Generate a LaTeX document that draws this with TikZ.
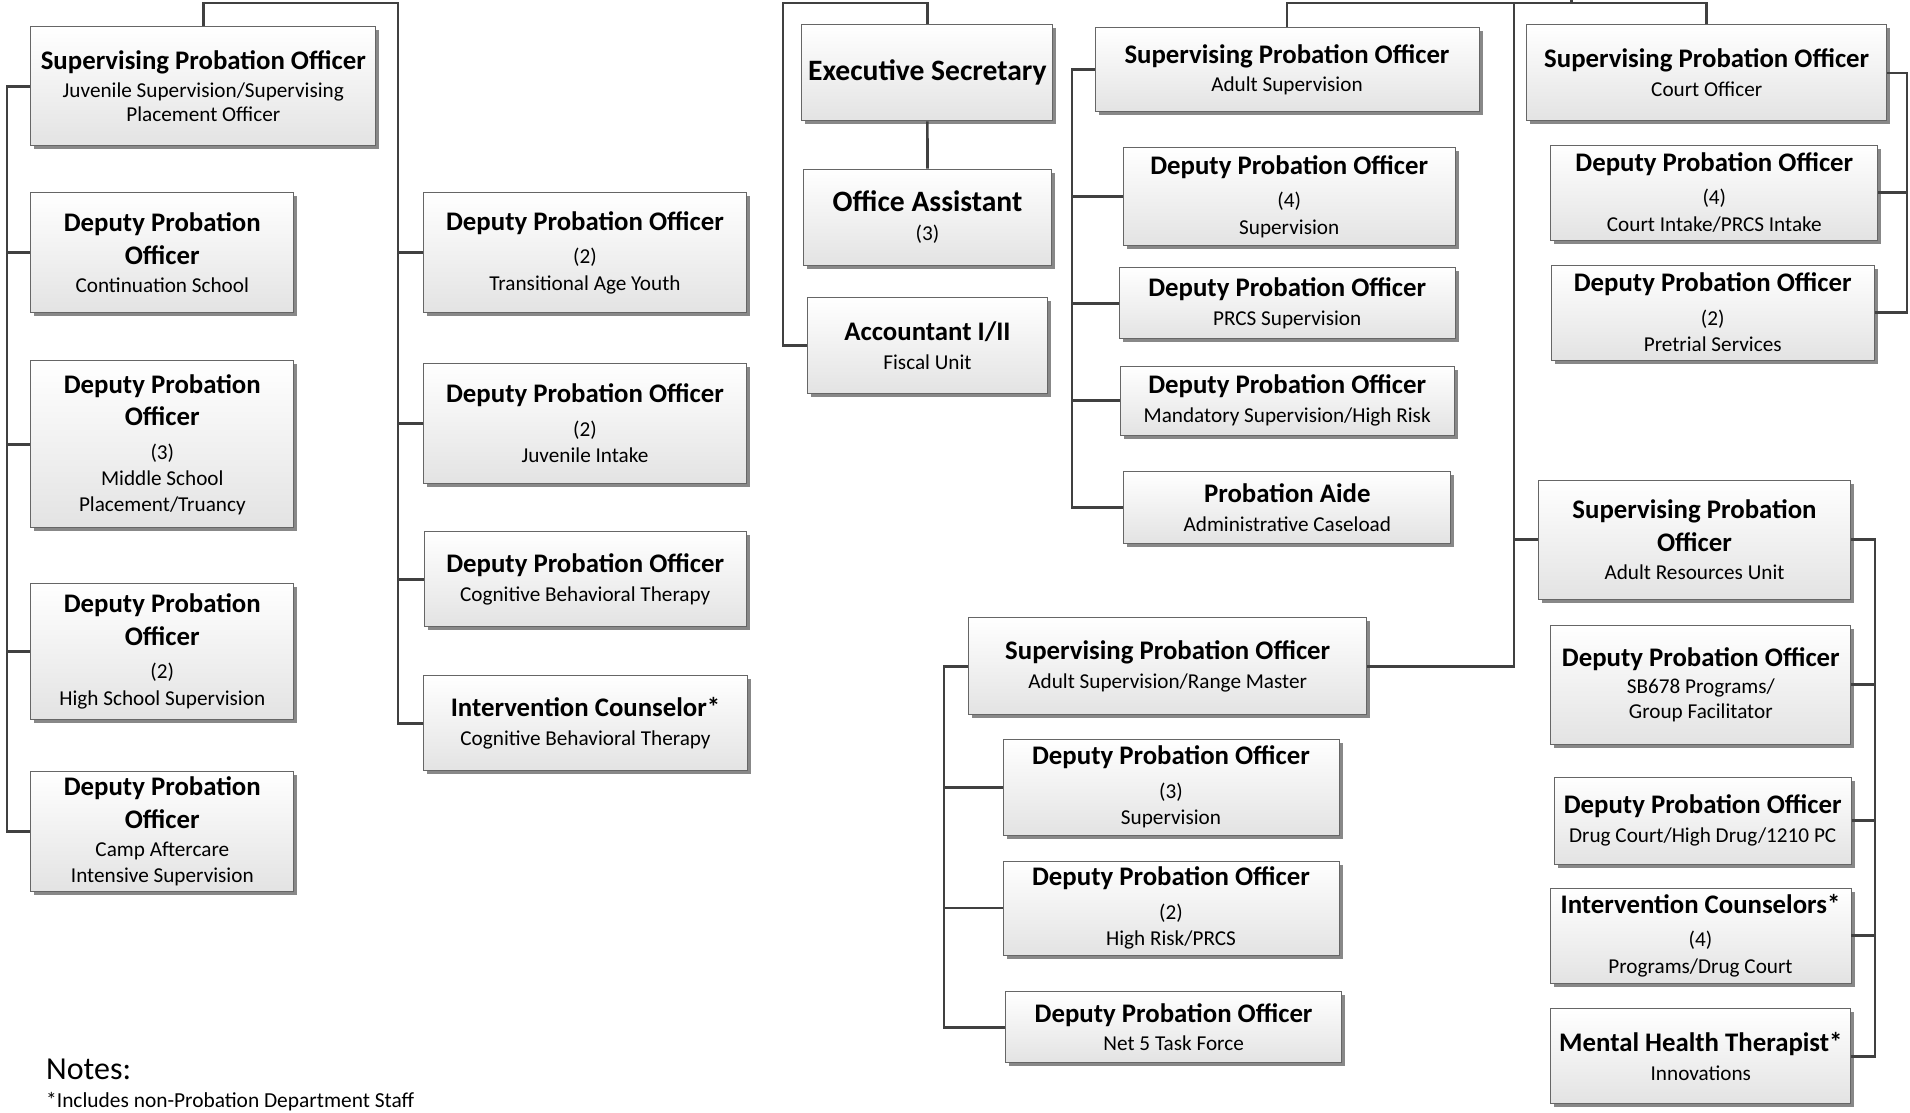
\documentclass[tikz,border=0pt]{standalone}
\usepackage{fontspec}
\setmainfont{Carlito}
\usetikzlibrary{shadows}
\newcommand\ttlfnt{\bfseries\fontsize{26.8}{31}\selectfont}
\newcommand\bigfnt{\bfseries\fontsize{29.6}{34}\selectfont}
\newcommand\subfnt{\fontsize{21.2}{25.5}\selectfont}
\begin{document}
\begin{tikzpicture}[x=1pt,y=-1pt,
    postbox/.style={draw=black!60, line width=0.9pt, top color=white, bottom color=black!11,
        drop shadow={shadow xshift=3.5pt, shadow yshift=-3.5pt, fill=black!55, opacity=0.85},
        inner sep=0pt, align=center, font=\subfnt},
    orgline/.style={draw=black!75, line width=2.6pt}]
                \useasboundingbox (0,0) rectangle (1910,1112) ;
                \draw (203.3,86.3) node[postbox, minimum width=345pt, minimum height=119pt] (spojuv) {\ttlfnt Supervising Probation Officer\\[2.5pt] Juvenile Supervision/Supervising\\[-1pt] Placement Officer} ;
                \draw (162.3,252.7) node[postbox, minimum width=263pt, minimum height=120pt] (dpocont) {\ttlfnt Deputy Probation\\[7pt] \ttlfnt Officer\\[3pt] Continuation School} ;
                \draw (162.3,444.4) node[postbox, minimum width=263pt, minimum height=167pt] (dpomid) {\ttlfnt Deputy Probation\\[7pt] \ttlfnt Officer\\[8pt] (3)\\[1pt] Middle School\\ Placement/Truancy} ;
                \draw (162.3,651.2) node[postbox, minimum width=263pt, minimum height=136pt] (dpohigh) {\ttlfnt Deputy Probation\\[7pt] \ttlfnt Officer\\[8pt] (2)\\[1pt] High School Supervision} ;
                \draw (162.3,831.5) node[postbox, minimum width=263pt, minimum height=120pt] (dpocamp) {\ttlfnt Deputy Probation\\[7pt] \ttlfnt Officer\\[3pt] Camp Aftercare\\ Intensive Supervision} ;
                \draw (585,252.7) node[postbox, minimum width=323pt, minimum height=120pt] (dpotay) {\ttlfnt Deputy Probation Officer\\[8pt] (2)\\[1pt] Transitional Age Youth} ;
                \draw (585,423.3) node[postbox, minimum width=323pt, minimum height=120pt] (dpojuvin) {\ttlfnt Deputy Probation Officer\\[8pt] (2)\\[1pt] Juvenile Intake} ;
                \draw (585.2,579.2) node[postbox, minimum width=322pt, minimum height=95pt] (dpocbt) {\ttlfnt Deputy Probation Officer\\[3pt] Cognitive Behavioral Therapy} ;
                \draw (585.5,723.4) node[postbox, minimum width=324pt, minimum height=95pt] (iccbt) {\ttlfnt Intervention Counselor*\\[3pt] Cognitive Behavioral Therapy} ;
                \draw (927.4,72.9) node[postbox, minimum width=251pt, minimum height=96pt] (execsec) {\bigfnt Executive Secretary} ;
                \draw (927.5,217) node[postbox, minimum width=248pt, minimum height=96pt] (offasst) {\bigfnt Office Assistant\\[3pt] (3)} ;
                \draw (927.5,345.5) node[postbox, minimum width=240pt, minimum height=96pt] (acct) {\ttlfnt Accountant I/II\\[3pt] Fiscal Unit} ;
                \draw (1287,69.7) node[postbox, minimum width=384pt, minimum height=84pt] (spoadult) {\ttlfnt Supervising Probation Officer\\[3pt] Adult Supervision} ;
                \draw (1289.2,196.7) node[postbox, minimum width=332pt, minimum height=98pt] (dpoadsup) {\ttlfnt Deputy Probation Officer\\[8pt] (4)\\[1pt] Supervision} ;
                \draw (1287.2,303.3) node[postbox, minimum width=336pt, minimum height=71pt] (dpoprcs) {\ttlfnt Deputy Probation Officer\\[3pt] PRCS Supervision} ;
                \draw (1287.2,400.5) node[postbox, minimum width=334pt, minimum height=69pt] (dpomand) {\ttlfnt Deputy Probation Officer\\[3pt] Mandatory Supervision/High Risk} ;
                \draw (1287.3,507.5) node[postbox, minimum width=327pt, minimum height=72pt] (aide) {\ttlfnt Probation Aide\\[3pt] Administrative Caseload} ;
                \draw (1706.7,72.9) node[postbox, minimum width=360pt, minimum height=96pt] (spocourt) {\ttlfnt Supervising Probation Officer\\[3pt] Court Officer} ;
                \draw (1714.3,192.5) node[postbox, minimum width=327pt, minimum height=95pt] (courtin) {\ttlfnt Deputy Probation Officer\\[8pt] (4)\\[1pt] Court Intake/PRCS Intake} ;
                \draw (1712.7,312.5) node[postbox, minimum width=323pt, minimum height=95pt] (pretrial) {\ttlfnt Deputy Probation Officer\\[8pt] (2)\\[1pt] Pretrial Services} ;
                \draw (1167.7,666.3) node[postbox, minimum width=398pt, minimum height=97pt] (sporange) {\ttlfnt Supervising Probation Officer\\[3pt] Adult Supervision/Range Master} ;
                \draw (1171,787.2) node[postbox, minimum width=336pt, minimum height=96pt] (dpothree) {\ttlfnt Deputy Probation Officer\\[8pt] (3)\\[1pt] Supervision} ;
                \draw (1171,908) node[postbox, minimum width=336pt, minimum height=94pt] (dporisk) {\ttlfnt Deputy Probation Officer\\[8pt] (2)\\[1pt] High Risk/PRCS} ;
                \draw (1173.6,1027.2) node[postbox, minimum width=336pt, minimum height=71pt] (netfive) {\ttlfnt Deputy Probation Officer\\[3pt] Net 5 Task Force} ;
                \draw (1694.5,539.7) node[postbox, minimum width=312pt, minimum height=119pt] (spoaru) {\ttlfnt Supervising Probation\\[7pt] \ttlfnt Officer\\[3pt] Adult Resources Unit} ;
                \draw (1700.8,684.5) node[postbox, minimum width=300pt, minimum height=119pt] (sbprog) {\ttlfnt Deputy Probation Officer\\[2pt] SB678 Programs/\\[-1pt] Group Facilitator} ;
                \draw (1702.7,820.5) node[postbox, minimum width=297pt, minimum height=87pt] (drugct) {\ttlfnt Deputy Probation Officer\\[3pt] Drug Court/High Drug/1210 PC} ;
                \draw (1700.5,935.7) node[postbox, minimum width=301pt, minimum height=95pt] (icfour) {\ttlfnt Intervention Counselors*\\[8pt] (4)\\[1pt] Programs/Drug Court} ;
                \draw (1700.8,1056.3) node[postbox, minimum width=300pt, minimum height=95pt] (mht) {\ttlfnt Mental Health Therapist*\\[3pt] Innovations} ;
                \draw (46,1079) node[anchor=base west, inner sep=0pt, font=\fontsize{32}{37}\selectfont] (notes) {Notes:} ;
                \draw (46,1107) node[anchor=base west, inner sep=0pt, font=\fontsize{21.4}{25}\selectfont] (staff) {*Includes non-Probation Department Staff} ;
                \coordinate (jtop) at (398,3) ;
                \coordinate (jbus) at (7,0) ;
                \coordinate (etop) at (783,3) ;
                \coordinate (abus) at (1072,0) ;
                \coordinate (rbus) at (1514,3) ;
                \coordinate (rup) at (1571.7,0) ;
                \coordinate (cbus) at (1907,0) ;
                \coordinate (ubus) at (1875,0) ;
                \coordinate (mbus) at (944,0) ;
                \draw [orgline] (spojuv.north) |- (jtop) |- (iccbt.west) ;
                \draw [orgline] (jtop |- dpotay.west) -- (dpotay.west) ;
                \draw [orgline] (jtop |- dpojuvin.west) -- (dpojuvin.west) ;
                \draw [orgline] (jtop |- dpocbt.west) -- (dpocbt.west) ;
                \draw [orgline] (spojuv.west) -| (jbus |- dpocamp.west) -- (dpocamp.west) ;
                \draw [orgline] (jbus |- dpocont.west) -- (dpocont.west) ;
                \draw [orgline] (jbus |- dpomid.west) -- (dpomid.west) ;
                \draw [orgline] (jbus |- dpohigh.west) -- (dpohigh.west) ;
                \draw [orgline] (execsec.north) |- (etop) |- (acct.west) ;
                \draw [orgline] (execsec.south) -- (offasst.north) ;
                \draw [orgline] (spoadult.north) |- (rbus) -| (spocourt.north) ;
                \draw [orgline] (rbus -| rup) -- (rup) ;
                \draw [orgline] (rbus) |- (sporange.east) ;
                \draw [orgline] (rbus |- spoaru.west) -- (spoaru.west) ;
                \draw [orgline] (spoadult.west) -| (abus |- aide.west) -- (aide.west) ;
                \draw [orgline] (abus |- dpoadsup.west) -- (dpoadsup.west) ;
                \draw [orgline] (abus |- dpoprcs.west) -- (dpoprcs.west) ;
                \draw [orgline] (abus |- dpomand.west) -- (dpomand.west) ;
                \draw [orgline] (spocourt.east) -| (cbus |- pretrial.east) -- (pretrial.east) ;
                \draw [orgline] (cbus |- courtin.east) -- (courtin.east) ;
                \draw [orgline] (spoaru.east) -| (ubus |- mht.east) -- (mht.east) ;
                \draw [orgline] (ubus |- sbprog.east) -- (sbprog.east) ;
                \draw [orgline] (ubus |- drugct.east) -- (drugct.east) ;
                \draw [orgline] (ubus |- icfour.east) -- (icfour.east) ;
                \draw [orgline] (sporange.west) -| (mbus |- netfive.west) -- (netfive.west) ;
                \draw [orgline] (mbus |- dpothree.west) -- (dpothree.west) ;
                \draw [orgline] (mbus |- dporisk.west) -- (dporisk.west) ;
\end{tikzpicture}
\end{document}
